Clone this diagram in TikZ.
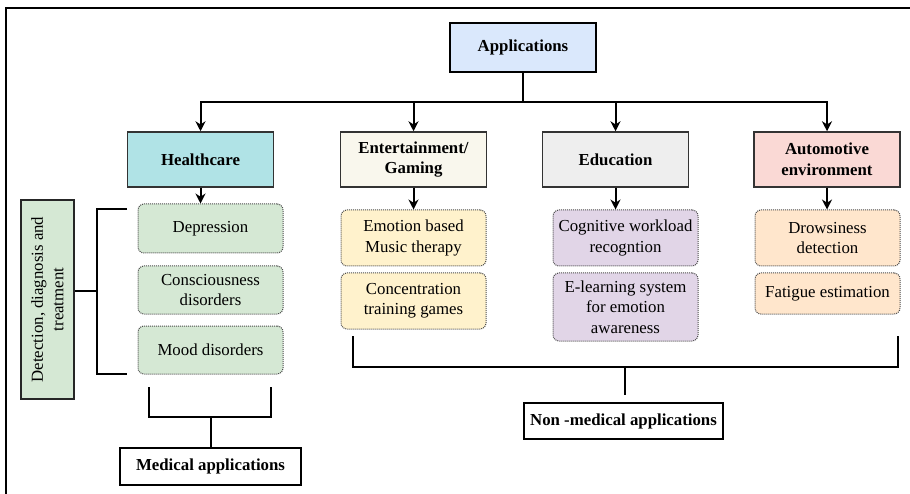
\documentclass[tikz,border=0pt]{standalone}
\usepackage{fontspec}
\setmainfont{Liberation Serif}
\usetikzlibrary{arrows.meta}
\definecolor{appblue}{HTML}{DAE8FC}
\definecolor{hcteal}{HTML}{B0E3E6}
\definecolor{entcream}{HTML}{F9F7ED}
\definecolor{edugray}{HTML}{EEEEEE}
\definecolor{autopink}{HTML}{FAD9D5}
\definecolor{subgreen}{HTML}{D5E8D4}
\definecolor{subyellow}{HTML}{FFF2CC}
\definecolor{subpurple}{HTML}{E1D5E7}
\definecolor{suborange}{HTML}{FFE6CC}
\begin{document}
\begin{tikzpicture}[x=1pt,y=-1pt,
  every node/.style={font=\fontsize{16.8}{20.5}\selectfont, align=center, inner sep=0pt},
  head/.style={draw=black!80, line width=1.5pt, minimum width=146pt, minimum height=55pt,
    font=\fontsize{16.8}{20.5}\selectfont\bfseries},
  sub/.style={draw=black!70, densely dotted, line width=1pt, rounded corners=6pt, minimum width=145pt},
  leaf/.style={draw=black, line width=2.5pt, font=\fontsize{16.8}{20.5}\selectfont\bfseries},
  link/.style={line width=2pt},
  arr/.style={link, -{Stealth[length=10pt,width=10pt]}},
]
\useasboundingbox (0,0) rectangle (910,494);

% frame
\draw[line width=2pt] (6,494) -- (6,8) -- (910,8);

% root
\node[leaf, fill=appblue, line width=2.8pt, minimum width=146pt, minimum height=49pt] (apps) at (523,47.5) {Applications};

% categories
\node[head, fill=hcteal]   (hc)   at (200.5,159.5) {Healthcare};
\node[head, fill=entcream] (ent)  at (413.5,159.5) {Entertainment/\\Gaming};
\node[head, fill=edugray]  (edu)  at (615.5,159.5) {Education};
\node[head, fill=autopink] (auto) at (827,159.5) {Automotive\\environment};

% healthcare items
\node[sub, fill=subgreen, minimum height=49pt] (dep)  at (210.5,228.5) {Depression};
\node[sub, fill=subgreen, minimum height=48pt] (con)  at (210.5,290) {Consciousness\\disorders};
\node[sub, fill=subgreen, minimum height=48pt] (mood) at (210.5,350) {Mood disorders};

% entertainment items
\node[sub, fill=subyellow, minimum height=56pt] (emo)  at (413.5,238) {Emotion based\\Music therapy};
\node[sub, fill=subyellow, minimum height=56pt] (conc) at (413.5,301) {Concentration\\training games};

% education items
\node[sub, fill=subpurple, minimum height=56pt] (cog) at (625.5,238) {Cognitive workload\\recogntion};
\node[sub, fill=subpurple, minimum height=68pt] (elr) at (625.5,307) {E-learning system\\for emotion\\awareness};

% automotive items
\node[sub, fill=suborange, minimum height=56pt] (drow) at (827.5,238) {Drowsiness\\detection};
\node[sub, fill=suborange, minimum height=41pt] (fat)  at (827.5,293.5) {Fatigue estimation};

% side label
\node[draw=black!85, line width=2.5pt, fill=subgreen, rotate=90,
      minimum width=199pt, minimum height=53pt] (det) at (47.5,299.5)
      {Detection, diagnosis and\\treatment};

% bottom labels
\node[leaf, minimum width=181pt, minimum height=37pt] (med)    at (210.5,466.5) {Medical applications};
\node[leaf, minimum width=199pt, minimum height=36pt] (nonmed) at (623.5,421) {Non -medical applications};

% root to categories
\coordinate (bus) at (523,102);
\draw[link] (apps.south) -- (bus);
\draw[arr] (bus) -| (hc.north);
\draw[arr] (bus) -| (auto.north);
\draw[arr] (ent.north |- bus) -- (ent.north);
\draw[arr] (edu.north |- bus) -- (edu.north);

% categories to first items
\draw[arr] (hc.south) -- (hc.south |- dep.north);
\draw[arr] (ent.south) -- (emo.north);
\draw[arr] (edu.south) -- (edu.south |- cog.north);
\draw[arr] (auto.south) -- (auto.south |- drow.north);

% bracket: detection, diagnosis and treatment
\coordinate (bt) at (127,209);
\coordinate (bb) at (127,374);
\coordinate (bmid) at (97,291.5);
\draw[link] (bt) -- (bt -| bmid) -- (bb -| bmid) -- (bb);
\draw[link] (bmid) -- (det.south |- bmid);

% bracket: medical applications
\coordinate (ml) at (149,387);
\coordinate (mr) at (271,387);
\coordinate (mbar) at (210.5,417);
\draw[link] (ml) -- (ml |- mbar) -- (mr |- mbar) -- (mr);
\draw[link] (mbar) -- (med.north);

% bracket: non-medical applications
\coordinate (nl) at (353,336);
\coordinate (nr) at (898,336);
\coordinate (nbar) at (625,367);
\draw[link] (nl) -- (nl |- nbar) -- (nr |- nbar) -- (nr);
\draw[link] (nbar) -- ([yshift=7pt]nbar |- nonmed.north);
\end{tikzpicture}
\end{document}
